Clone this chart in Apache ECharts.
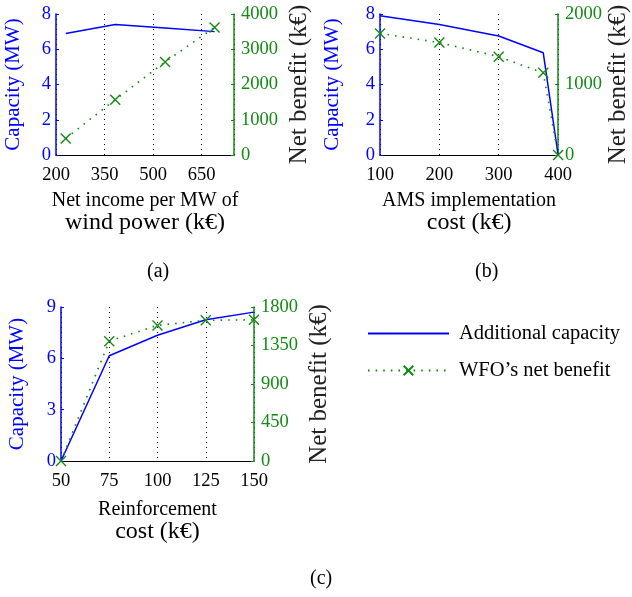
<!DOCTYPE html>
<html><head><meta charset="utf-8">
<script src="https://cdn.jsdelivr.net/npm/echarts@6/dist/echarts.min.js"></script>
<style>html,body{margin:0;padding:0;background:#fff}#c{width:632px;height:597px}</style>
</head><body><div id="c"></div>
<script>
// ---- data ----
const xA = [230, 383, 537, 690];
const capA = [6.9, 7.4, 7.2, 7.0];
const netA = [470, 1570, 2640, 3620];

const xB = [100, 200, 300, 375, 400];
const capB = [7.9, 7.4, 6.75, 5.8, 0];
const netB = [1725, 1595, 1395, 1165, 0];

const xC = [50, 75, 100, 125, 150];
const capC = [0, 6.15, 7.35, 8.25, 8.7];
const netC = [0, 1400, 1585, 1645, 1650];

const ticksXA = [200, 350, 500, 650], maxXA = 750;
const ticksXB = [100, 200, 300, 400];
const ticksXC = [50, 75, 100, 125, 150];
const ticksCapAB = [0, 2, 4, 6, 8];
const ticksCapC = [0, 3, 6, 9];
const ticksNetA = [0, 1000, 2000, 3000, 4000];
const ticksNetB = [0, 1000, 2000];
const ticksNetC = [0, 450, 900, 1350, 1800];

const capName = 'Additional capacity';
const netName = 'WFO\u2019s net benefit';
const xNameA = ['Net income per MW of', 'wind power (k\u20ac)'];
const xNameB = ['AMS implementation', 'cost (k\u20ac)'];
const xNameC = ['Reinforcement', 'cost (k\u20ac)'];
const captions = ['(a)', '(b)', '(c)'];

// ---- style ----
const BLUE = '#0000ff', GREEN = '#138a13', FONT = 'Liberation Serif';
const pair = (xs, ys) => xs.map((x, i) => [x, ys[i]]);
const xMark = 'path://M0,0L10,10M10,0L0,10';
const plain = v => String(v);

function xAxis(idx, ticks, max, names, gap, hideMax) {
  return {
    gridIndex: idx, type: 'value', min: ticks[0], max: max,
    interval: ticks[1] - ticks[0],
    axisLine: {show: true, lineStyle: {color: '#000', width: 1.2}},
    axisTick: {show: false},
    axisLabel: {color: '#000', fontFamily: FONT, fontSize: 18.5, margin: 11, showMaxLabel: !hideMax, showMinLabel: true, formatter: plain},
    splitLine: {show: true, lineStyle: {color: '#000', type: [1, 4], width: 1}},
    name: '{a|' + names[0] + '}\n{b|' + names[1] + '}',
    nameLocation: 'middle', nameGap: gap,
    nameTextStyle: {rich: {
      a: {fontFamily: FONT, fontSize: 20, color: '#000', lineHeight: 21},
      b: {fontFamily: FONT, fontSize: 24, color: '#000', lineHeight: 23}
    }}
  };
}
function yLeft(idx, ticks, gap) {
  return {
    gridIndex: idx, type: 'value', position: 'left',
    min: ticks[0], max: ticks[ticks.length - 1], interval: ticks[1] - ticks[0],
    axisLine: {show: true, lineStyle: {color: BLUE, width: 1.5}},
    axisTick: {show: true, inside: true, length: 3, lineStyle: {color: BLUE}},
    axisLabel: {color: BLUE, fontFamily: FONT, fontSize: 18.5, margin: 5, formatter: plain},
    splitLine: {show: false},
    name: 'Capacity (MW)', nameLocation: 'middle', nameGap: gap, nameRotate: 90,
    nameTextStyle: {color: BLUE, fontFamily: FONT, fontSize: 21}
  };
}
function yRight(idx, ticks, gap) {
  return {
    gridIndex: idx, type: 'value', position: 'right',
    min: ticks[0], max: ticks[ticks.length - 1], interval: ticks[1] - ticks[0],
    axisLine: {show: true, lineStyle: {color: GREEN, width: 1.5}},
    axisTick: {show: true, inside: true, length: 3, lineStyle: {color: GREEN}},
    axisLabel: {color: GREEN, fontFamily: FONT, fontSize: 18.5, margin: 7, formatter: plain},
    splitLine: {show: false},
    name: 'Net benefit (k\u20ac)', nameLocation: 'middle', nameGap: gap, nameRotate: 90,
    nameTextStyle: {color: '#222', fontFamily: FONT, fontSize: 25}
  };
}
function capSeries(xi, yi, data) {
  return {type: 'line', name: capName, xAxisIndex: xi, yAxisIndex: yi, data: data,
    showSymbol: false, symbol: 'none', lineStyle: {color: BLUE, width: 1.5}, itemStyle: {color: BLUE},
    animation: false, z: 3};
}
function netSeries(xi, yi, data) {
  return {type: 'line', name: netName, xAxisIndex: xi, yAxisIndex: yi, data: data,
    symbol: xMark, symbolSize: 10, showSymbol: true,
    lineStyle: {color: GREEN, width: 1.6, type: [1.6, 6]},
    itemStyle: {color: 'rgba(0,0,0,0)', borderColor: GREEN, borderWidth: 1.4},
    animation: false, z: 4};
}

const chart = echarts.init(document.getElementById('c'));
chart.setOption({
  animation: false,
  grid: [
    {left: 56, top: 14, width: 178, height: 141},
    {left: 380, top: 14, width: 179, height: 141},
    {left: 61, top: 307, width: 193, height: 154}
  ],
  xAxis: [
    xAxis(0, ticksXA, maxXA, xNameA, 35, true),
    xAxis(1, ticksXB, ticksXB[ticksXB.length - 1], xNameB, 35, false),
    xAxis(2, ticksXC, ticksXC[ticksXC.length - 1], xNameC, 38, false)
  ],
  yAxis: [
    yLeft(0, ticksCapAB, 32), yRight(0, ticksNetA, 53),
    yLeft(1, ticksCapAB, 37), yRight(1, ticksNetB, 47),
    yLeft(2, ticksCapC, 33), yRight(2, ticksNetC, 53)
  ],
  legend: {
    left: 362, top: 318, orient: 'vertical', itemWidth: 81, itemHeight: 12, itemGap: 16,
    data: [{name: capName, itemStyle: {opacity: 0}}, {name: netName}],
    textStyle: {fontFamily: FONT, fontSize: 20.5, color: '#000', padding: [0, 0, 0, 5]},
    selectedMode: false
  },
  graphic: [
    {type: 'text', left: 147, top: 262, style: {text: captions[0], font: '20px "Liberation Serif"', fill: '#000'}},
    {type: 'text', left: 475, top: 262, style: {text: captions[1], font: '20px "Liberation Serif"', fill: '#000'}},
    {type: 'text', left: 310, top: 569, style: {text: captions[2], font: '20px "Liberation Serif"', fill: '#000'}}
  ],
  series: [
    capSeries(0, 0, pair(xA, capA)), netSeries(0, 1, pair(xA, netA)),
    capSeries(1, 2, pair(xB, capB)), netSeries(1, 3, pair(xB, netB)),
    capSeries(2, 4, pair(xC, capC)), netSeries(2, 5, pair(xC, netC))
  ]
});
</script></body></html>
